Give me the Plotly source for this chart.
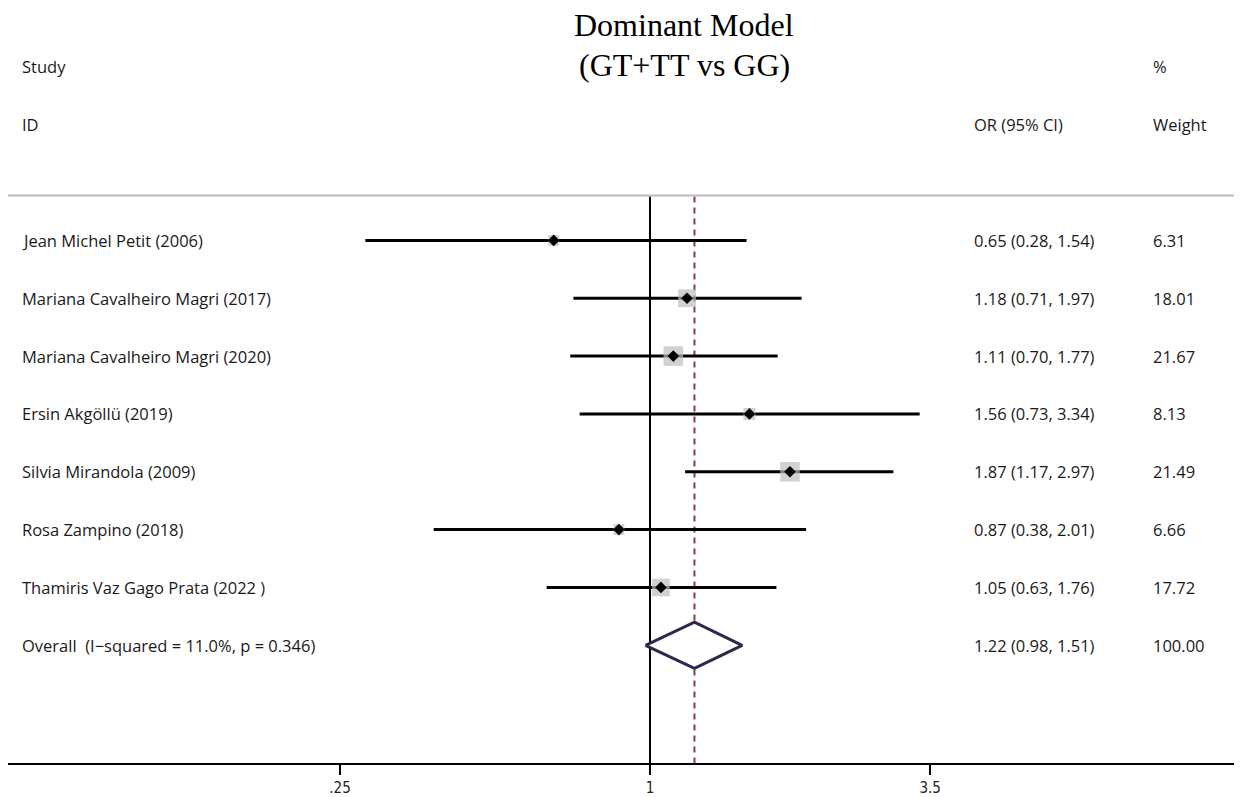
import plotly.graph_objects as go
import math

studies = ["Jean Michel Petit (2006)", "Mariana Cavalheiro Magri (2017)",
           "Mariana Cavalheiro Magri (2020)", "Ersin Akgöllü (2019)",
           "Silvia Mirandola (2009)", "Rosa Zampino (2018)",
           "Thamiris Vaz Gago Prata (2022 )"]
or_vals = [0.65, 1.18, 1.11, 1.56, 1.87, 0.87, 1.05]
ci_low = [0.28, 0.71, 0.70, 0.73, 1.17, 0.38, 0.63]
ci_high = [1.54, 1.97, 1.77, 3.34, 2.97, 2.01, 1.76]
weights = [6.31, 18.01, 21.67, 8.13, 21.49, 6.66, 17.72]
overall_label = "Overall  (I\u2212squared = 11.0%, p = 0.346)"
overall = 1.22
overall_low = 0.98
overall_high = 1.51
tick_vals = [0.25, 1, 3.5]
tick_text = [".25", "1", "3.5"]

OFF = 8  # page body margin offset
W, H = 1242 - OFF, 797 - OFF
def fx(p):
    return p - OFF

L, R, T, B = 0, 0, 0, H - fx(765)
pw = W - L - R
px1 = fx(650.0)
ppl = 223.6  # pixels per natural-log unit
xmin = (L - px1) / ppl / math.log(10)
xmax = (W - R - px1) / ppl / math.log(10)

y0px, dy = fx(241.0), 58.0
ytop = 1 + (T - y0px) / dy
ybot = 1 + (H - B - y0px) / dy

def ypx(p):
    return 1 + (fx(p) - y0px) / dy

def xpaper(p):
    return (fx(p) - L) / pw

fig = go.Figure()
n = len(studies)
rows = list(range(1, n + 1))
ov_row = n + 1

line_top = ypx(197)
fig.add_trace(go.Scatter(x=[1, 1], y=[line_top, ybot], mode="lines",
                         line=dict(color="black", width=2), hoverinfo="skip", showlegend=False))
fig.add_trace(go.Scatter(x=[overall, overall], y=[line_top, ybot], mode="lines",
                         line=dict(color="#8B3A4A", width=2, dash="6px,5px"),
                         hoverinfo="skip", showlegend=False))

for i in range(n):
    fig.add_trace(go.Scatter(x=[ci_low[i], ci_high[i]], y=[rows[i], rows[i]], mode="lines",
                             line=dict(color="black", width=3), hoverinfo="skip", showlegend=False))

fig.add_trace(go.Scatter(x=or_vals, y=rows, mode="markers",
                         marker=dict(symbol="square", color="#BDBDBD",
                                     size=[4.2 * math.sqrt(w) for w in weights],
                                     line=dict(width=0)),
                         hoverinfo="skip", showlegend=False))
fig.add_trace(go.Scatter(x=or_vals, y=rows, mode="markers",
                         marker=dict(symbol="diamond", color="black", size=9),
                         hoverinfo="skip", showlegend=False))

hh = 0.4
fig.add_trace(go.Scatter(x=[overall_low, overall, overall_high, overall, overall_low],
                         y=[ov_row, ov_row - hh, ov_row, ov_row + hh, ov_row],
                         mode="lines", fill="toself", fillcolor="white",
                         line=dict(color="#2B2A4C", width=3),
                         hoverinfo="skip", showlegend=False))

fig.add_shape(type="line", xref="paper", yref="y", x0=0, x1=1, y0=ypx(196), y1=ypx(196),
              line=dict(color="#BBBBBB", width=2))

font = dict(family="Open Sans", size=16.5, color="#1a1a1a")
ann = []
col_study = xpaper(22)
col_or = xpaper(974)
col_w = xpaper(1153)

def add_text(x, y, text):
    ann.append(dict(x=x, y=y, xref="paper", yref="y", text=text, showarrow=False,
                    xanchor="left", yanchor="middle", font=font, xshift=-2))

add_text(col_study, ypx(67), "Study")
add_text(col_study, ypx(125), "ID")
add_text(col_or, ypx(125), "OR (95% CI)")
add_text(col_w, ypx(67), "%")
add_text(col_w, ypx(125), "Weight")

for i in range(n):
    add_text(col_study, rows[i], studies[i])
    add_text(col_or, rows[i], f"{or_vals[i]:.2f} ({ci_low[i]:.2f}, {ci_high[i]:.2f})")
    add_text(col_w, rows[i], f"{weights[i]:.2f}")
add_text(col_study, ov_row, overall_label)
add_text(col_or, ov_row, f"{overall:.2f} ({overall_low:.2f}, {overall_high:.2f})")
add_text(col_w, ov_row, "100.00")

tfont = dict(family="Liberation Serif", size=32, color="black")
ann.append(dict(x=xpaper(684), y=ypx(25), xref="paper", yref="y", text="Dominant Model",
                showarrow=False, xanchor="center", yanchor="middle", font=tfont))
ann.append(dict(x=xpaper(684), y=ypx(65), xref="paper", yref="y", text="(GT+TT vs GG)",
                showarrow=False, xanchor="center", yanchor="middle", font=tfont))

fig.update_layout(
    width=W, height=H,
    margin=dict(l=L, r=R, t=T, b=B, pad=0),
    plot_bgcolor="white", paper_bgcolor="white",
    annotations=ann,
    xaxis=dict(type="log", range=[xmin, xmax], tickmode="array", tickvals=tick_vals,
               ticktext=tick_text, ticks="outside", ticklen=10, tickwidth=2, tickcolor="black",
               showline=True, linewidth=2, linecolor="black", showgrid=False, zeroline=False,
               tickfont=dict(family="DejaVu Sans Condensed", size=15, color="#222222")),
    yaxis=dict(range=[ybot, ytop], visible=False, showgrid=False, zeroline=False),
)

fig.write_html("out.html")
